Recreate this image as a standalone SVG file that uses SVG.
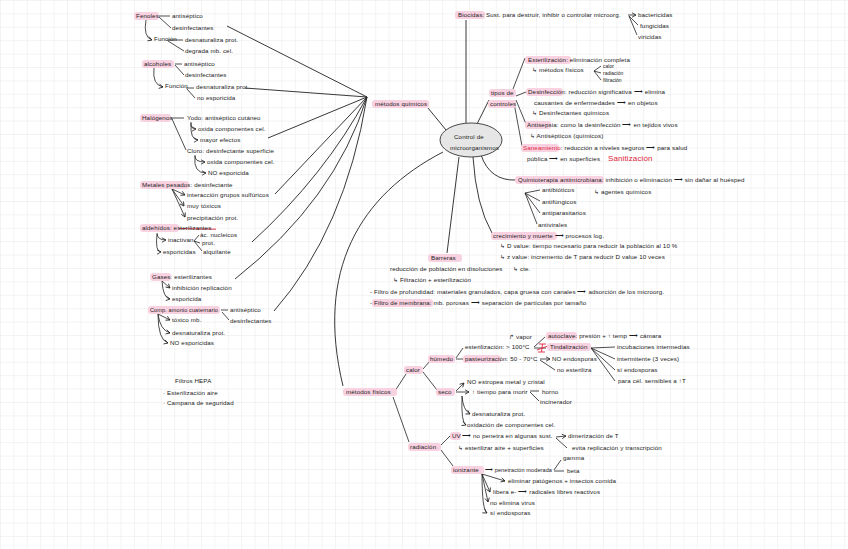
<svg xmlns="http://www.w3.org/2000/svg" width="848" height="549" viewBox="0 0 848 549">
<defs>
<pattern id="grid" width="13.4" height="13.4" patternUnits="userSpaceOnUse">
<path d="M13.4,0 L0,0 L0,13.4" fill="none" stroke="#e2e2e2" stroke-width="0.8"/>
</pattern>
<marker id="ah" markerWidth="6" markerHeight="6" refX="5" refY="3" orient="auto" markerUnits="userSpaceOnUse">
<path d="M1,0.8 L5,3 L1,5.2" fill="none" stroke="#222" stroke-width="0.8"/>
</marker>
<style>
text{font-family:"Liberation Sans",Arial,sans-serif;font-size:6.2px;letter-spacing:0.12px;fill:#1a1a1a}
.s{font-size:5px;letter-spacing:0}
.r{fill:#e0243a}
.big{font-size:8px}
.hl{fill:#f9d2e2}
.c{fill:none;stroke:#222;stroke-width:0.8}
.m{fill:none;stroke:#222;stroke-width:0.9}
.a{marker-end:url(#ah)}
</style>
</defs>
<rect width="848" height="549" fill="#ffffff"/>
<rect width="848" height="549" fill="url(#grid)"/>

<g id="connectors">
<path class="m" d="M367,97 L227,26"/>
<path class="m" d="M367,97 L245,88"/>
<path class="m" d="M367,97 L268,138"/>
<path class="m" d="M367,97 L275,194"/>
<path class="m" d="M367,97 Q325,175 252,242"/>
<path class="m" d="M367,97 Q335,200 235,279"/>
<path class="m" d="M367,97 Q345,230 274,311"/>
<path class="m" d="M428,108 L446,130"/>
<path class="m" d="M466,20 L466,123"/>
<path class="m" d="M477,124 L489,100"/>
<path class="m" d="M481,155 Q490,181 516,180"/>
<path class="m" d="M473,157 Q476,205 492,233"/>
<path class="m" d="M459,157 L447,253"/>
<path class="m" d="M443,152 C360,195 315,270 343,386"/>
<path class="c" d="M513,89 L525,58"/>
<path class="c" d="M516,96 L526,92"/>
<path class="c" d="M516,100 L526,124"/>
<path class="c" d="M514,103 L522,146"/>
<path class="c a" d="M628,15 L636,15"/>
<path class="c" d="M629,16 L638,25"/>
<path class="c" d="M629,16 L637,35"/>
<path class="c" d="M594,71 L601,66 M594,71 L601,73 M594,71 L601,80"/>
<path class="c" d="M525,193 L540,190 M525,193 L540,201 M525,193 L540,213 M525,193 L537,224"/>
<path class="c" d="M159,16 L170,16 M159,17 L171,28"/>
<path class="c a" d="M146,20 Q143,37 152,40"/>
<path class="c" d="M167,40 L183,40 M168,41 L184,51"/>
<path class="c" d="M175,64 L182,64 M175,65 L184,75"/>
<path class="c a" d="M154,68 Q152,85 163,87"/>
<path class="c" d="M186,88 L194,88 M187,89 L195,98"/>
<path class="c" d="M171,118 L184,118 M172,119 L186,150"/>
<path class="c a" d="M191,122 Q190,129 196,129"/>
<path class="c a" d="M191,123 Q190,140 198,140"/>
<path class="c a" d="M195,155 Q194,162 205,162"/>
<path class="c a" d="M195,156 Q193,173 206,173"/>
<path class="c a" d="M172,189 L185,195"/>
<path class="c a" d="M172,189 L184,206"/>
<path class="c a" d="M172,189 L185,217"/>
<path d="M179,228.6 L216,229.2" fill="none" stroke="#e0243a" stroke-width="0.9"/>
<path class="c a" d="M157,233 Q157,240 166,240"/>
<path class="c a" d="M157,234 Q155,252 161,252"/>
<path class="c" d="M194,241 L199,235 M194,241 L200,243 M194,241 L202,251"/>
<path class="c a" d="M162,281 L170,288"/>
<path class="c a" d="M162,281 Q163,298 170,299"/>
<path class="c" d="M221,310 L228,310 M222,312 L229,320"/>
<path class="c a" d="M158,314 L170,320"/>
<path class="c a" d="M158,314 Q160,330 170,333"/>
<path class="c a" d="M158,314 Q158,340 168,343"/>
<path class="c" d="M395,391 L406,374"/>
<path class="c" d="M393,397 L409,442"/>
<path class="c" d="M423,369 L430,361 M423,372 L437,390"/>
<path class="c" d="M456,358 L463,348 M456,359 L463,359"/>
<path class="c" d="M534,347 L545,337 M534,348 L546,348"/>
<path class="c a" d="M540,359 L550,359"/>
<path class="c" d="M540,360 L555,370"/>
<path class="c" d="M591,348 L615,347 M591,348 L615,359 M591,348 L615,370 M591,348 L615,381"/>
<path class="c a" d="M456,391 L464,383"/>
<path class="c a" d="M456,392 L469,392"/>
<path class="c a" d="M462,396 Q463,410 470,414"/>
<path class="c a" d="M462,396 Q461,423 466,425"/>
<path class="c" d="M530,391 L539,391 M530,392 L539,401"/>
<path class="c" d="M441,445 L450,436 M441,450 L453,466"/>
<path class="c a" d="M556,437 L566,436"/>
<path class="c" d="M556,438 L567,448"/>
<path class="c" d="M554,470 L561,460 M554,471 L564,471"/>
<path class="c a" d="M482,474 L505,481"/>
<path class="c a" d="M482,474 L490,492"/>
<path class="c a" d="M482,474 L488,502"/>
<path class="c a" d="M482,474 Q482,510 487,513"/>
<path d="M539,344 L546,344 M542.5,344 L541.5,352 M538,352 L545,352 M537,350 L548,346" fill="none" stroke="#e0243a" stroke-width="0.9"/>
</g>

<g id="n-fenoles">
<rect class="hl" x="134" y="12" width="25" height="8" rx="3"/>
<text x="136" y="18">Fenoles</text>
<text x="172" y="18">antiséptico</text>
<text x="172" y="30">desinfectantes</text>
<text x="154" y="41">Función</text>
<text x="185" y="42">desnaturaliza prot.</text>
<text x="185" y="53">degrada mb. cel.</text>
</g>
<g id="n-alcoholes">
<rect class="hl" x="142" y="60" width="32" height="8" rx="3"/>
<text x="144" y="66">alcoholes</text>
<text x="184" y="66">antiséptico</text>
<text x="185" y="77">desinfectantes</text>
<text x="165" y="88">Función</text>
<text x="196" y="89">desnaturaliza prot.</text>
<text x="197" y="100">no esporicida</text>
</g>
<g id="n-halogenos">
<rect class="hl" x="140" y="114" width="31" height="8" rx="3"/>
<text x="142" y="120">Halógenos</text>
<text x="187" y="120">Yodo: antiséptico cutáneo</text>
<text x="198" y="131">oxida componentes cel.</text>
<text x="200" y="142">mayor efectos</text>
<text x="187" y="153">Cloro: desinfectante superficie</text>
<text x="207" y="164">oxida componentes cel.</text>
<text x="208" y="175">NO esporicida</text>
</g>
<g id="n-metales">
<rect class="hl" x="140" y="181" width="49" height="8" rx="3"/>
<text x="142" y="187">Metales pesados: desinfectante</text>
<text x="187" y="197">interacción grupos sulfúricos</text>
<text x="187" y="208">muy tóxicos</text>
<text x="187" y="220">precipitación prot.</text>
</g>
<g id="n-aldehidos">
<rect class="hl" x="140" y="224" width="39" height="8" rx="3"/>
<text x="142" y="230">aldehídos: esterilizantes</text>
<text x="168" y="242">inactivan</text>
<text x="200" y="237">ác. nucleicos</text>
<text x="202" y="245">prot.</text>
<text x="203" y="254">alquilante</text>
<text x="163" y="254">esporicidas</text>
</g>
<g id="n-gases">
<rect class="hl" x="150" y="273" width="21" height="8" rx="3"/>
<text x="152" y="279">Gases: esterilizantes</text>
<text x="172" y="290">inhibición replicación</text>
<text x="172" y="301">esporicida</text>
</g>
<g id="n-amonio">
<rect class="hl" x="148" y="306" width="72" height="8" rx="3"/>
<text x="150" y="312" textLength="68" lengthAdjust="spacingAndGlyphs">Comp. amonio cuaternario</text>
<text x="230" y="312">antiséptico</text>
<text x="230" y="323">desinfectantes</text>
<text x="172" y="322">tóxico mb.</text>
<text x="172" y="335">desnaturaliza prot.</text>
<text x="170" y="345">NO esporicidas</text>
</g>
<g id="n-hepa">
<text x="175" y="383">Filtros HEPA</text>
<text x="163" y="395">· Esterilización aire</text>
<text x="163" y="405">· Campana de seguridad</text>
</g>
<g id="n-metodos-quimicos">
<rect class="hl" x="372" y="100" width="57" height="8" rx="3"/>
<text x="375" y="106">métodos químicos</text>
</g>
<g id="n-control">
<ellipse cx="471" cy="140" rx="31" ry="17" fill="#e6e6e6" stroke="#333" stroke-width="0.9"/>
<text x="454" y="139">Control de</text>
<text x="450" y="150">microorganismos</text>
</g>
<g id="n-biocidas">
<rect class="hl" x="455" y="11" width="30" height="8" rx="3"/>
<text x="458" y="17">Biocidas: Sust. para destruir, inhibir o controlar microorg.</text>
<text x="638" y="17">bactericidas</text>
<text x="640" y="28">fungicidas</text>
<text x="638" y="39">viricidas</text>
</g>
<g id="n-tipos">
<rect class="hl" x="489" y="89" width="27" height="8" rx="3"/>
<rect class="hl" x="488" y="100" width="28" height="8" rx="3"/>
<text x="491" y="95">tipos de</text>
<text x="490" y="106">controles</text>
</g>
<g id="n-esterilizacion">
<rect class="hl" x="525" y="56" width="46" height="8" rx="3"/>
<text x="528" y="62">Esterilización: eliminación completa</text>
<text x="532" y="72">↳ métodos físicos</text>
<text class="s" x="603" y="68">calor</text>
<text class="s" x="603" y="75">radiación</text>
<text class="s" x="603" y="82">filtración</text>
</g>
<g id="n-desinfeccion">
<rect class="hl" x="526" y="88" width="37" height="8" rx="3"/>
<text x="528" y="94">Desinfección: reducción significativa ⟶ elimina</text>
<text x="534" y="105">causantes de enfermedades ⟶ en objetos</text>
<text x="532" y="115">↳ Desinfectantes químicos</text>
</g>
<g id="n-antisepsia">
<rect class="hl" x="525" y="121" width="26" height="8" rx="3"/>
<text x="527" y="127">Antisepsia: como la desinfección ⟶ en tejidos vivos</text>
<text x="530" y="138">↳ Antisépticos (químicos)</text>
</g>
<g id="n-saneamiento">
<rect class="hl" x="521" y="144" width="38" height="8" rx="3"/>
<text x="523" y="150"><tspan class="r">Saneamiento</tspan>: reducción a niveles seguros ⟶ para salud</text>
<text x="527" y="161">pública ⟶ en superficies</text>
<text class="r big" x="608" y="161">Sanitización</text>
</g>
<g id="n-quimioterapia">
<rect class="hl" x="515" y="176" width="89" height="8" rx="3"/>
<text x="518" y="182">Quimioterapia antimicrobiana: inhibición o eliminación ⟶ sin dañar al huésped</text>
<text x="594" y="194">↳ agentes químicos</text>
<text x="542" y="192">antibióticos</text>
<text x="542" y="204">antifúngicos</text>
<text x="542" y="215">antiparasitarios</text>
<text x="538" y="227">antivirales</text>
</g>
<g id="n-crecimiento">
<rect class="hl" x="491" y="232" width="66" height="8" rx="3"/>
<text x="493" y="238">crecimiento y muerte ⟶ procesos log.</text>
<text x="500" y="248">↳ D value: tiempo necesario para reducir la población al 10 %</text>
<text x="500" y="259">↳ z value: incremento de T para reducir D value 10 veces</text>
<text x="513" y="271">↳ cte.</text>
</g>
<g id="n-barreras">
<rect class="hl" x="428" y="254" width="34" height="8" rx="3"/>
<text x="431" y="260">Barreras</text>
<text x="390" y="271">reducción de población en disoluciones</text>
<text x="393" y="282">↳ Filtración + esterilización</text>
<text x="370" y="294">- Filtro de profundidad: materiales granulados, capa gruesa con canales ⟶ adsorción de los microorg.</text>
<rect class="hl" x="372" y="299" width="61" height="8" rx="3"/>
<text x="370" y="305">- Filtro de membrana: mb. porosas ⟶ separación de partículas por tamaño</text>
</g>
<g id="n-metodos-fisicos">
<rect class="hl" x="343" y="388" width="54" height="8" rx="3"/>
<text x="346" y="394">métodos físicos</text>
</g>
<g id="n-calor">
<rect class="hl" x="404" y="366" width="19" height="8" rx="3"/>
<text x="406" y="372">calor</text>
</g>
<g id="n-humedo">
<rect class="hl" x="428" y="355" width="27" height="8" rx="3"/>
<text x="430" y="361">húmedo</text>
<text x="465" y="349">esterilización: &gt; 100°C</text>
<rect class="hl" x="463" y="355" width="38" height="8" rx="3"/>
<text x="465" y="361">pasteurización: 50 - 70°C</text>
<text x="509" y="339">↱ vapor</text>
<rect class="hl" x="546" y="332" width="31" height="8" rx="3"/>
<text x="548" y="338">autoclave: presión + ↑ temp ⟶ cámara</text>
<rect class="hl" x="547" y="343" width="44" height="8" rx="3"/>
<text x="550" y="349">Tindalización</text>
<text x="552" y="361">NO endosporas</text>
<text x="557" y="372">no esteriliza</text>
<text x="617" y="349">incubaciones intermedias</text>
<text x="617" y="361">intermitente (3 veces)</text>
<text x="617" y="372">sí endosporas</text>
<text x="618" y="383">para cél. sensibles a ↑T</text>
</g>
<g id="n-seco">
<rect class="hl" x="436" y="388" width="19" height="8" rx="3"/>
<text x="438" y="394">seco</text>
<text x="467" y="384">NO estropea metal y cristal</text>
<text x="472" y="394">↑ tiempo para morir</text>
<text x="542" y="394">horno</text>
<text x="540" y="404">incinerador</text>
<text x="472" y="416">desnaturaliza prot.</text>
<text x="467" y="427">oxidación de componentes cel.</text>
</g>
<g id="n-radiacion">
<rect class="hl" x="408" y="443" width="33" height="8" rx="3"/>
<text x="410" y="449">radiación</text>
<rect class="hl" x="450" y="432" width="11" height="8" rx="3"/>
<text x="452" y="438">UV</text>
<text x="462" y="438">⟶ no penetra en algunas sust.</text>
<text x="458" y="450">↳ esterilizar aire + superficies</text>
<text x="568" y="438">dimerización de T</text>
<text x="572" y="450">evita replicación y transcripción</text>
<rect class="hl" x="451" y="466" width="33" height="8" rx="3"/>
<text x="453" y="472">ionizante</text>
<text x="485" y="472" textLength="67" lengthAdjust="spacingAndGlyphs">⟶ penetración moderada</text>
<text x="563" y="460">gamma</text>
<text x="567" y="473">beta</text>
<text x="508" y="483">eliminar patógenos + insectos comida</text>
<text x="493" y="494">libera e- ⟶ radicales libres reactivos</text>
<text x="490" y="505">no elimina virus</text>
<text x="490" y="515">sí endosporas</text>
</g>
</svg>
